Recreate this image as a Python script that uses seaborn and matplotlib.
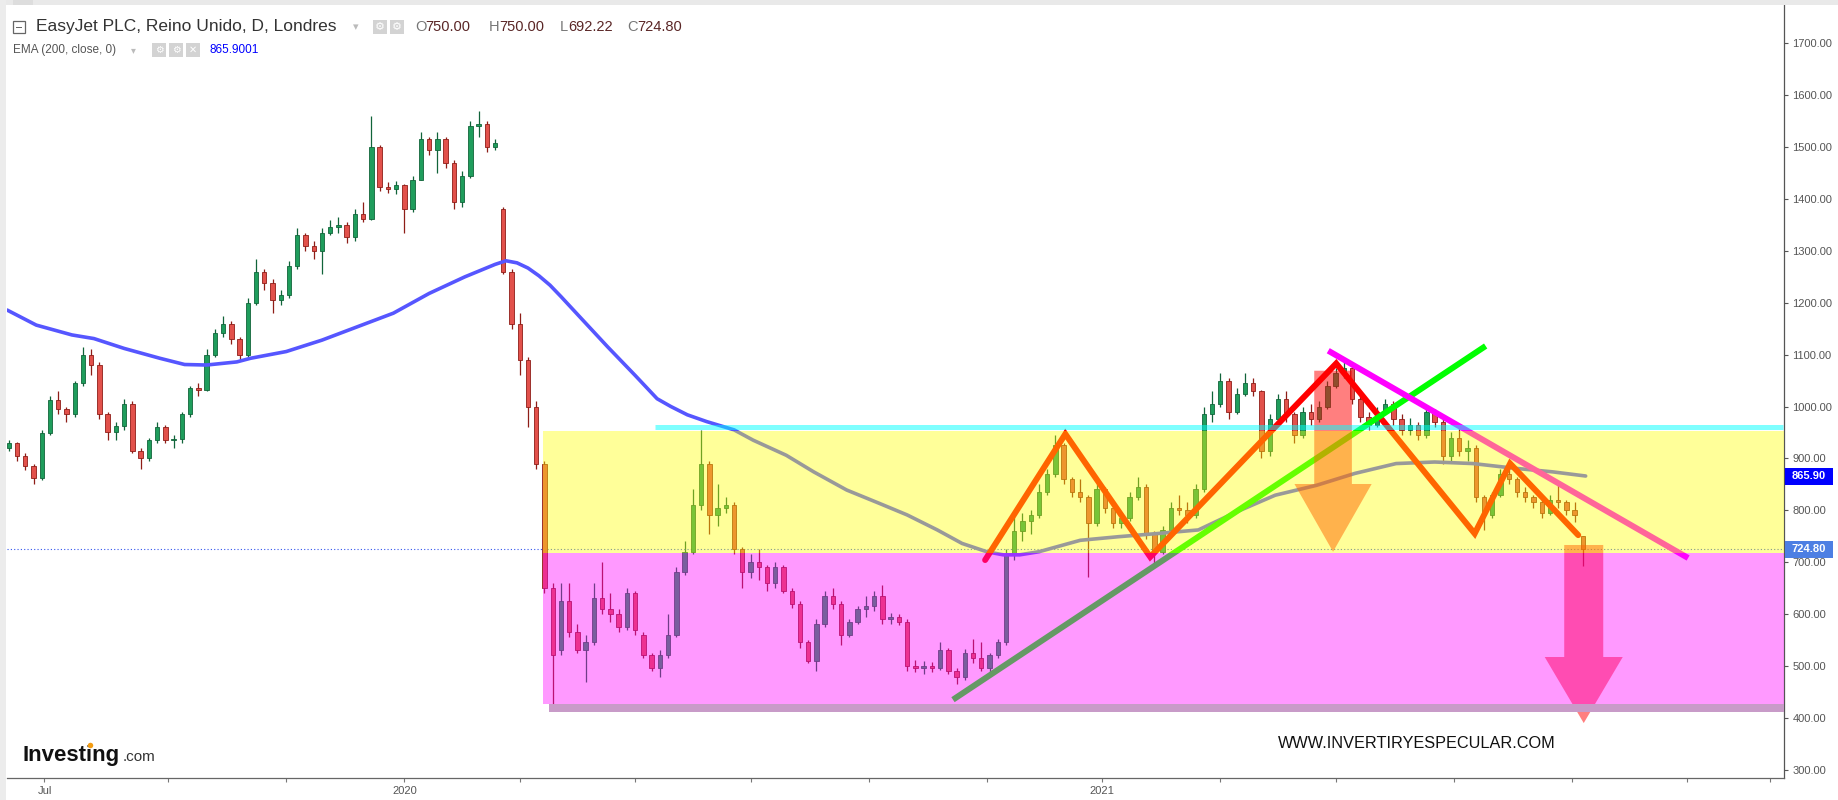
import numpy as np
import matplotlib
matplotlib.use("Agg")
import matplotlib.pyplot as plt
import seaborn as sns
from matplotlib.patches import Rectangle, Polygon, Ellipse
from matplotlib.transforms import blended_transform_factory

# ---------------- data ----------------
start_day = -13      # trading-day index of first candle (0 = 1 Jul 2019)
step = 3             # trading days per candle

opens = [920, 930, 905, 885, 862, 948, 1012, 995, 985, 1045, 1100, 1080, 985, 950, 962, 1005, 915, 900, 935, 960,
         935, 938, 985, 1035, 1032, 1100, 1141, 1160, 1130, 1100, 1200, 1260, 1238, 1205, 1215, 1270, 1330, 1310, 1300, 1335,
         1347, 1350, 1327, 1372, 1362, 1500, 1424, 1420, 1428, 1380, 1437, 1515, 1495, 1515, 1470, 1395, 1445, 1540, 1545, 1500,
         1380, 1260, 1160, 1090, 1000, 890, 650, 530, 625, 565, 530, 545, 630, 610, 600, 575, 640, 560, 520, 495,
         520, 560, 680, 720, 810, 890, 790, 805, 810, 725, 680, 700, 690, 660, 690, 645, 620, 545, 510, 580,
         635, 620, 560, 585, 610, 615, 635, 590, 595, 585, 500, 495, 500, 495, 530, 490, 478, 525, 515, 495,
         520, 545, 715, 760, 780, 790, 835, 870, 925, 860, 835, 825, 775, 840, 805, 775, 785, 825, 845, 755,
         720, 762, 805, 800, 790, 840, 985, 1005, 1050, 990, 1025, 1045, 1030, 915, 975, 1015, 985, 945, 990, 975,
         1000, 1040, 1065, 1075, 1015, 980, 965, 990, 1005, 975, 955, 965, 945, 990, 970, 905, 940, 915, 920, 825,
         790, 830, 870, 860, 835, 825, 815, 795, 820, 815, 800, 750]
highs = [935, 932, 910, 890, 955, 1020, 1030, 1000, 1050, 1115, 1110, 1085, 990, 970, 1015, 1010, 920, 940, 970, 965,
         945, 990, 1040, 1045, 1110, 1150, 1175, 1165, 1135, 1210, 1285, 1265, 1245, 1225, 1280, 1345, 1335, 1320, 1345, 1360,
         1365, 1355, 1380, 1395, 1560, 1505, 1432, 1435, 1430, 1445, 1530, 1520, 1530, 1520, 1475, 1455, 1550, 1570, 1550, 1515,
         1385, 1265, 1180, 1095, 1010, 895, 660, 660, 660, 580, 560, 660, 700, 640, 610, 650, 645, 565, 525, 530,
         600, 690, 740, 840, 955, 895, 850, 825, 815, 730, 715, 725, 695, 700, 695, 650, 625, 550, 590, 645,
         650, 625, 590, 615, 635, 645, 655, 602, 600, 590, 512, 510, 508, 545, 535, 495, 532, 552, 545, 525,
         552, 725, 790, 795, 800, 850, 880, 945, 930, 865, 860, 830, 850, 845, 810, 795, 835, 865, 850, 760,
         770, 815, 830, 815, 850, 1000, 1030, 1065, 1055, 1035, 1065, 1055, 1032, 985, 1025, 1030, 990, 1000, 1005, 1010,
         1050, 1075, 1090, 1080, 1020, 990, 1000, 1015, 1010, 985, 978, 970, 1000, 995, 975, 950, 965, 935, 925, 830,
         835, 880, 885, 865, 845, 830, 820, 830, 850, 820, 815, 750]
lows = [915, 895, 878, 850, 858, 945, 985, 970, 980, 1040, 1060, 975, 935, 935, 955, 910, 880, 895, 930, 930,
        920, 930, 980, 1020, 1030, 1095, 1135, 1120, 1090, 1095, 1195, 1225, 1180, 1195, 1210, 1265, 1300, 1285, 1255, 1330,
        1335, 1315, 1320, 1355, 1360, 1415, 1412, 1410, 1335, 1375, 1437, 1485, 1450, 1460, 1380, 1385, 1440, 1520, 1490, 1495,
        1255, 1150, 1060, 960, 880, 640, 415, 520, 555, 525, 468, 540, 600, 585, 565, 570, 560, 515, 490, 478,
        515, 555, 675, 715, 800, 755, 770, 795, 715, 650, 670, 665, 645, 650, 640, 612, 535, 505, 490, 575,
        610, 540, 555, 580, 595, 605, 580, 580, 578, 490, 488, 485, 488, 492, 485, 465, 472, 505, 490, 488,
        515, 540, 705, 740, 755, 785, 830, 865, 850, 825, 815, 672, 770, 795, 765, 765, 780, 820, 745, 697,
        715, 755, 790, 775, 785, 835, 970, 1000, 975, 985, 1020, 1020, 900, 905, 970, 970, 930, 940, 965, 970,
        995, 1035, 1055, 1005, 970, 955, 960, 985, 965, 945, 945, 935, 940, 960, 890, 895, 905, 895, 815, 762,
        785, 825, 850, 825, 815, 805, 785, 790, 805, 790, 778, 692.22]
closes = [930, 905, 885, 862, 948, 1012, 995, 985, 1045, 1100, 1080, 985, 950, 962, 1005, 915, 900, 935, 960, 935,
          938, 985, 1035, 1032, 1100, 1141, 1160, 1130, 1100, 1200, 1260, 1238, 1205, 1215, 1270, 1330, 1310, 1300, 1335, 1347,
          1350, 1327, 1372, 1362, 1500, 1424, 1420, 1428, 1380, 1437, 1515, 1495, 1515, 1470, 1395, 1445, 1540, 1545, 1500, 1508,
          1260, 1160, 1090, 1000, 890, 650, 520, 625, 565, 530, 545, 630, 610, 600, 575, 640, 570, 520, 495, 520,
          560, 680, 720, 810, 890, 790, 805, 810, 725, 680, 700, 690, 660, 690, 645, 620, 545, 510, 580, 635,
          620, 560, 585, 610, 615, 635, 590, 595, 585, 500, 495, 500, 495, 530, 490, 478, 525, 515, 495, 520,
          545, 715, 760, 780, 790, 835, 870, 925, 860, 835, 825, 775, 840, 805, 775, 785, 825, 845, 755, 720,
          762, 805, 800, 790, 840, 985, 1005, 1050, 990, 1025, 1045, 1030, 915, 975, 1015, 985, 945, 990, 975, 1000,
          1040, 1065, 1075, 1015, 980, 965, 990, 1005, 975, 955, 965, 945, 990, 970, 905, 940, 915, 920, 825, 790,
          830, 870, 860, 835, 825, 815, 795, 820, 815, 800, 790, 724.8]

ema_day = [-13.6, -3, 10, 18, 29, 42, 51, 59, 70, 75, 88, 101, 114, 127, 140, 153, 164, 168, 172, 176, 180, 184, 188,
           195, 205, 215, 223, 228, 234, 241, 251, 258, 270, 280, 292, 304, 314, 325, 334, 343, 349, 355,
           362, 377, 391, 405, 420, 434, 448, 463, 477, 492, 506, 520, 535, 549, 561]
ema_val = [1186, 1157, 1138, 1131, 1112, 1093, 1081, 1080, 1086, 1093, 1106, 1128, 1154, 1180, 1218, 1250, 1274, 1281, 1277, 1267, 1252, 1234, 1212,
           1172, 1115, 1060, 1015, 1000, 984, 971, 955, 935, 906, 874, 839, 813, 791, 762, 736, 720, 714, 714,
           720, 742, 749, 755, 762, 797, 829, 848, 871, 890, 893, 890, 881, 874, 866]

tick_day = [0, 45, 88, 131, 173, 215, 257, 300, 343, 385, 428, 470, 513, 556, 598, 628]
tick_lab = ["Jul", "", "", "2020", "", "", "", "", "", "2021", "", "", "", "", "", ""]
y_ticks = list(range(300, 1800, 100))

# drawn analysis (levels and trend lines, in day / price units)
zigzag_day = [342.4, 371.6, 402.5, 470.2, 520.6, 533.5, 558.3]
zigzag_val = [704, 947, 710, 1083, 755, 890, 752]
up_trend_day, up_trend_val = [330.7, 524.6], [434.7, 1116.7]
down_trend_day, down_trend_val = [467.3, 598.3], [1107.6, 707.9]
zone_start = 181.5
yellow_lo, yellow_hi = 718, 952
magenta_lo = 426.4
floor_lo, floor_hi, floor_start = 411, 426.4, 183.7
resist_level, resist_start = 961, 222.2
last_close, ema_last = 724.8, 865.90

W, H = 1838, 800
XL = (-13.65, 633.2)
YL = (283.7, 1774.2)

sns.set_theme(style="white")
plt.rcParams["font.family"] = ["Liberation Sans", "DejaVu Sans"]

fig = plt.figure(figsize=(W / 100, H / 100), dpi=100)
fig.patch.set_facecolor("white")
ax = fig.add_axes([7 / W, 22 / H, (1784 - 7) / W, (778 - 5) / H])
ax.set_facecolor("white")

o = np.array(opens, float); h = np.array(highs, float)
l = np.array(lows, float); c = np.array(closes, float)
x = start_day + step * np.arange(len(c))
up = c >= o
fill = np.where(up, "#1f9d5c", "#e2514b")
edge = np.where(up, "#11643a", "#8e1d17")
ax.vlines(x, l, h, colors=edge, lw=0.9, zorder=2)
ax.bar(x, np.maximum(np.abs(c - o), 2.0), bottom=np.minimum(o, c), width=1.6,
       color=fill, edgecolor=edge, linewidth=0.6, zorder=2.5)

# EMA 200
sns.lineplot(x=ema_day, y=ema_val, ax=ax, color="#5656ff", lw=2.6, zorder=3, sort=False)

# current price dotted line
ax.axhline(last_close, color="#3355ee", ls=(0, (1, 2)), lw=0.8, zorder=2)

# drawings (beneath the translucent zones)
ax.plot(zigzag_day, zigzag_val, color="#ff0000", lw=4.3, solid_joinstyle="miter", zorder=3.2)
ax.plot(up_trend_day, up_trend_val, color="#00ff00", lw=4.3, solid_capstyle="butt", zorder=3.3)
ax.plot(down_trend_day, down_trend_val, color="#ff00ff", lw=4.3, solid_capstyle="butt", zorder=3.3)

def arrow(xc, half_shaft, half_head, top, head_base, tip):
    pts = [(xc - half_shaft, top), (xc + half_shaft, top), (xc + half_shaft, head_base),
           (xc + half_head, head_base), (xc, tip), (xc - half_head, head_base),
           (xc - half_shaft, head_base)]
    ax.add_patch(Polygon(pts, closed=True, fc="#ff0000", alpha=0.5, lw=0, zorder=4))

arrow(469.05, 6.85, 14.05, 1069, 850.6, 720)
arrow(560.3, 7.1, 14.2, 733, 517, 389.6)

# zones
zw = XL[1] - zone_start + 1
ax.add_patch(Rectangle((zone_start, yellow_lo), zw, yellow_hi - yellow_lo, fc="#ffff00", alpha=0.4, lw=0, zorder=5))
ax.add_patch(Rectangle((zone_start, magenta_lo), zw, yellow_lo - magenta_lo, fc="#ff00ff", alpha=0.4, lw=0, zorder=5))
ax.add_patch(Rectangle((floor_start, floor_lo), XL[1] - floor_start + 1, floor_hi - floor_lo, fc="#c89bc8", lw=0, zorder=6))
ax.hlines(resist_level, resist_start, XL[1] - 0.5, color="#00ffff", alpha=0.5, lw=3.6, zorder=6)

ax.set_xlim(*XL)
ax.set_ylim(*YL)

# axes styling
for s in ["top", "left"]:
    ax.spines[s].set_visible(False)
ax.spines["right"].set_color("#555555"); ax.spines["right"].set_linewidth(0.9)
ax.spines["bottom"].set_color("#666666"); ax.spines["bottom"].set_linewidth(0.9)
ax.yaxis.tick_right()
ax.set_yticks(y_ticks)
ax.set_yticklabels([f"{v:.2f}" for v in y_ticks])
ax.set_xticks(tick_day)
ax.set_xticklabels(tick_lab)
ax.tick_params(axis="y", which="both", left=False, right=True, length=3, width=0.8, color="#555555",
               labelsize=8, labelcolor="#555555", pad=3)
ax.tick_params(axis="x", bottom=True, length=3, width=0.8, color="#777777",
               labelsize=8, labelcolor="#555555", pad=3)
ax.grid(False)

# price tags on the right axis
bt = blended_transform_factory(ax.transAxes, ax.transData)
for val, col in [(ema_last, "#0000ff"), (last_close, "#4d7fe3")]:
    ax.add_patch(Rectangle((1.0005, val - 16.4), 0.027, 32.8, transform=bt, fc=col, lw=0,
                           clip_on=False, zorder=10))
    ax.text(1.0005 + 0.0135, val, f"{val:.2f}", transform=bt, ha="center", va="center",
            color="white", fontsize=8, fontweight="bold", zorder=11, clip_on=False)

# ---------------- header / frame decorations ----------------
def ftxt(xp, yp, s, **kw):
    kw.setdefault("va", "center")
    kw.setdefault("ha", "left")
    return fig.text(xp / W, 1 - yp / H, s, **kw)

def fbox(x0, y0, w, h, **kw):
    fig.patches.append(Rectangle((x0 / W, 1 - (y0 + h) / H), w / W, h / H,
                                 transform=fig.transFigure, figure=fig, **kw))

fbox(0, 0, W, 5, fc="#e9e9e9", lw=0)
fbox(0, 0, 6, H, fc="#ececec", lw=0)
fbox(13, 0, 20, 5, fc="#dddddd", lw=0)

# title row
fbox(13, 21, 12, 12, fc="white", ec="#666666", lw=0.9)
fbox(16, 26.5, 6, 1, fc="#666666", lw=0)
ftxt(36, 27, "EasyJet PLC, Reino Unido, D, Londres", fontsize=12.5, color="#333333")
ftxt(353, 27, "\u25be", fontsize=8, color="#bbbbbb", family="DejaVu Sans")
for x0 in (373, 390):
    fbox(x0, 20, 14, 14, fc="#d3d3d3", lw=0)
    ftxt(x0 + 7, 27, "\u2699", fontsize=8, color="white", family="DejaVu Sans", ha="center")
for xp, letter, num in [(415, "O", "750.00"), (489, "H", "750.00"), (560, "L", "692.22"), (627, "C", "724.80")]:
    ftxt(xp, 27, letter, fontsize=10.5, color="#777777")
    ftxt(xp + (8 if letter == "L" else 10.5), 27, num, fontsize=10.5, color="#5a2626")

# EMA row
ftxt(13, 50, "EMA (200, close, 0)", fontsize=8.5, color="#555555")
ftxt(131, 50, "\u25be", fontsize=7, color="#bbbbbb", family="DejaVu Sans")
for x0, sym in [(152, "\u2699"), (169, "\u2699"), (186, "\u2715")]:
    fbox(x0, 43, 14, 14, fc="#d3d3d3", lw=0)
    ftxt(x0 + 7, 50, sym, fontsize=7, color="white", family="DejaVu Sans", ha="center")
ftxt(210, 50, "865.9001", fontsize=8.5, color="#0000ff")

# logo and watermark
ftxt(23, 761, "Investing", fontweight="bold", fontsize=16, color="#111111", va="baseline")
fig.patches.append(Ellipse((90.5 / W, 1 - 745.5 / H), 5.5 / W, 5.5 / H, transform=fig.transFigure,
                           figure=fig, fc="#f39c12", lw=0, zorder=20))
ftxt(123, 761, ".com", fontsize=11, color="#333333", va="baseline")
ftxt(1278, 743, "WWW.INVERTIRYESPECULAR.COM", fontsize=11.7, color="#111111")

fig.savefig("out.png", dpi=100, facecolor="white")
